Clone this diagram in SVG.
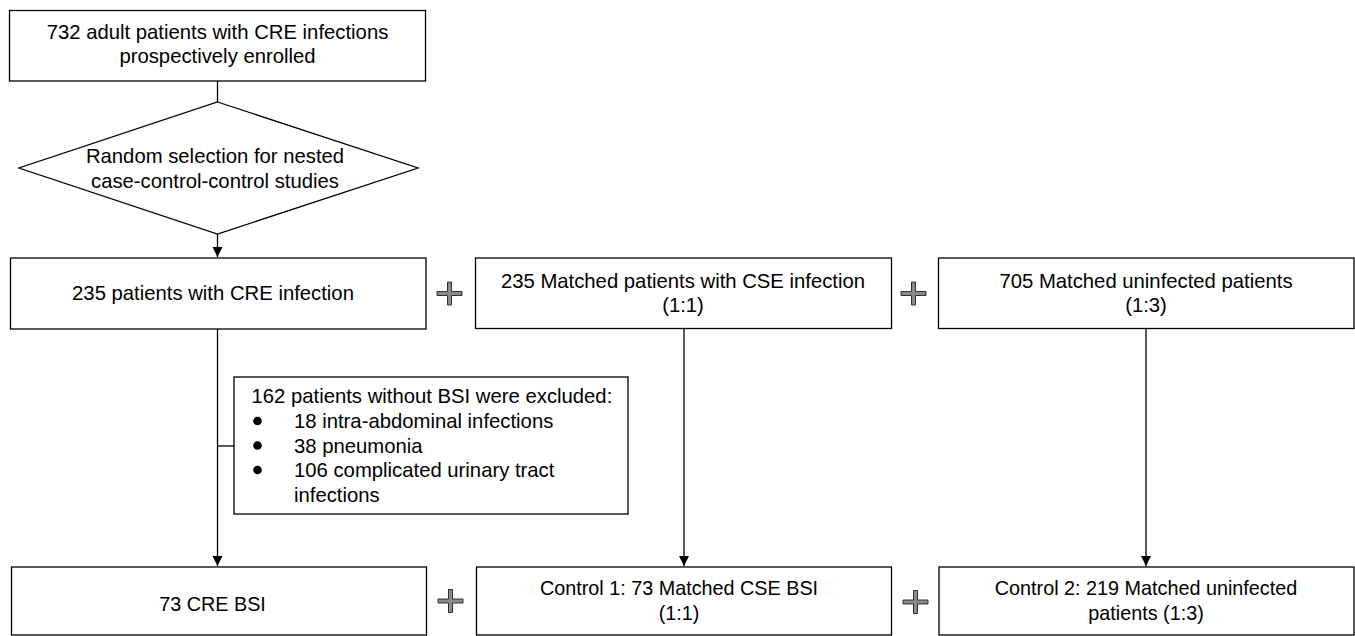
<svg xmlns="http://www.w3.org/2000/svg" width="1355" height="636" viewBox="0 0 1355 636">
<defs>
<style>
.box{fill:#fff;stroke:#000;stroke-width:1.3}
.t{font-family:"Liberation Sans",Arial,sans-serif;font-size:20.3px;fill:#000;text-anchor:middle}
.tb{font-family:"Liberation Sans",Arial,sans-serif;font-size:19.8px;fill:#000;text-anchor:middle}
.tl{font-family:"Liberation Sans",Arial,sans-serif;font-size:20.3px;fill:#000}
.ln{fill:none;stroke:#000;stroke-width:1.3}
.plus{fill:#8a8a8a;stroke:#222;stroke-width:0.9}
</style>
<marker id="arr" markerWidth="12" markerHeight="12" refX="10" refY="5" orient="auto" markerUnits="userSpaceOnUse">
<path d="M0,0 L10,5 L0,10 Z" fill="#000"/>
</marker>
<path id="plusShape" d="M-2,-11.5 H2 V-2 H12.5 V2 H2 V11.5 H-2 V2 H-12.5 V-2 H-2 Z"/>
</defs>
<rect width="1355" height="636" fill="#fff"/>

<g id="connectors">
<line class="ln" x1="217.5" y1="81" x2="217.5" y2="102"/>
<line class="ln" x1="217.5" y1="234" x2="217.5" y2="257" marker-end="url(#arr)"/>
<line class="ln" x1="217.5" y1="329" x2="217.5" y2="566" marker-end="url(#arr)"/>
<line class="ln" x1="217.5" y1="446" x2="234" y2="446"/>
<line class="ln" x1="684" y1="328" x2="684" y2="566" marker-end="url(#arr)"/>
<line class="ln" x1="1146" y1="328" x2="1146" y2="566" marker-end="url(#arr)"/>
</g>

<g id="n-enrolled">
<rect class="box" x="9.5" y="10.5" width="416" height="70.5"/>
<text class="t" x="217.5" y="39">732 adult patients with CRE infections</text>
<text class="t" x="217.5" y="63">prospectively enrolled</text>
</g>

<g id="n-random">
<polygon class="box" points="217.5,102 418,168 217.5,234 19,168"/>
<text class="t" x="215" y="163">Random selection for nested</text>
<text class="t" x="215" y="188">case-control-control studies</text>
</g>

<g id="n-cre">
<rect class="box" x="10.5" y="258" width="415.5" height="71"/>
<text class="t" x="213" y="300">235 patients with CRE infection</text>
</g>

<g id="plus1"><use href="#plusShape" class="plus" transform="translate(449.5,293.5)"/></g>

<g id="n-cse">
<rect class="box" x="475.5" y="258" width="416" height="70.5"/>
<text class="t" x="683" y="288">235 Matched patients with CSE infection</text>
<text class="t" x="683" y="312">(1:1)</text>
</g>

<g id="plus2"><use href="#plusShape" class="plus" transform="translate(913.5,293.5)"/></g>

<g id="n-uninf">
<rect class="box" x="938.5" y="258" width="415.5" height="70.5"/>
<text class="t" x="1146" y="288">705 Matched uninfected patients</text>
<text class="t" x="1146" y="312">(1:3)</text>
</g>

<g id="n-excluded">
<rect class="box" x="234" y="377" width="394" height="137"/>
<text class="tl" x="251.5" y="403">162 patients without BSI were excluded:</text>
<circle cx="257.5" cy="421" r="4.3"/>
<text class="tl" x="294" y="428">18 intra-abdominal infections</text>
<circle cx="257.5" cy="445.5" r="4.3"/>
<text class="tl" x="294" y="453">38 pneumonia</text>
<circle cx="257.5" cy="470" r="4.3"/>
<text class="tl" x="294" y="477">106 complicated urinary tract</text>
<text class="tl" x="294" y="502">infections</text>
</g>

<g id="n-crebsi">
<rect class="box" x="11.5" y="567" width="415" height="68"/>
<text class="tb" x="212.5" y="611">73 CRE BSI</text>
</g>

<g id="plus3"><use href="#plusShape" class="plus" transform="translate(450.5,601)"/></g>

<g id="n-control1">
<rect class="box" x="476.5" y="567" width="415" height="68"/>
<text class="tb" x="679" y="595">Control 1: 73 Matched CSE BSI</text>
<text class="tb" x="679" y="620">(1:1)</text>
</g>

<g id="plus4"><use href="#plusShape" class="plus" transform="translate(915.5,602)"/></g>

<g id="n-control2">
<rect class="box" x="939" y="567" width="415" height="68"/>
<text class="tb" x="1146" y="595">Control 2: 219 Matched uninfected</text>
<text class="tb" x="1146" y="620">patients (1:3)</text>
</g>
</svg>
